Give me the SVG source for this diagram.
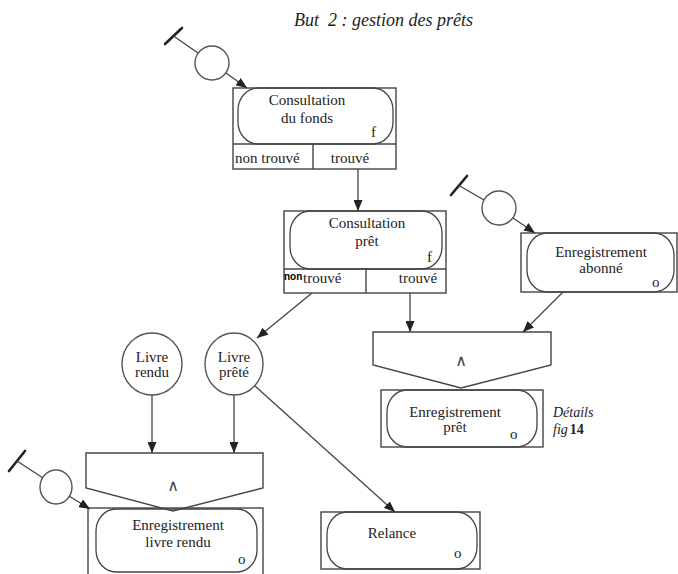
<svg xmlns="http://www.w3.org/2000/svg" width="678" height="574" viewBox="0 0 678 574">
<defs>
<marker id="ah" markerUnits="userSpaceOnUse" markerWidth="11" markerHeight="9" refX="11" refY="4.5" orient="auto">
<path d="M0,0 L11,4.5 L0,9 z" fill="#222"/>
</marker>
<style>
.box{fill:none;stroke:#444;stroke-width:1.4}
.rr{fill:none;stroke:#444;stroke-width:1.3}
.c{fill:#fff;stroke:#555;stroke-width:1.4}
.bar{stroke:#222;stroke-width:2.6;stroke-linecap:round}
.ln{fill:none;stroke:#444;stroke-width:1.3}
.arr{fill:none;stroke:#444;stroke-width:1.3;marker-end:url(#ah)}
.t{font-family:"Liberation Serif","Times New Roman",serif;font-size:15px;fill:#222}
.m{text-anchor:middle}
.it{font-style:italic}
.and{font-family:"DejaVu Sans",sans-serif;font-size:16px;fill:#444;text-anchor:middle}
.sync{fill:#fff;stroke:#444;stroke-width:1.4}
</style>
</defs>
<rect width="678" height="574" fill="#fff"/>

<g id="title">
<text class="t it" x="294" y="26" style="font-size:18px;white-space:pre" xml:space="preserve">But  2 : gestion des prêts</text>
</g>

<g id="start1">
<line class="bar" x1="165" y1="44" x2="182" y2="28"/>
<line class="ln" x1="173.5" y1="36" x2="198" y2="53"/>
<circle class="c" cx="212" cy="63" r="17"/>
</g>

<g id="n-consultation-fonds">
<rect class="box" x="233" y="88" width="163" height="81"/>
<line class="box" x1="233" y1="144" x2="396" y2="144"/>
<line class="box" x1="313" y1="144" x2="313" y2="169"/>
<rect class="rr" x="238" y="88" width="155" height="56" rx="20" ry="22"/>
<text class="t m" x="307" y="105">Consultation</text>
<text class="t m" x="307" y="123">du fonds</text>
<text class="t" x="371" y="137">f</text>
<text class="t" x="235" y="163">non trouvé</text>
<text class="t m" x="350" y="163">trouvé</text>
</g>

<g id="n-consultation-pret">
<rect class="box" x="284" y="211" width="162" height="82"/>
<line class="box" x1="284" y1="269" x2="446" y2="269"/>
<line class="box" x1="366" y1="269" x2="366" y2="293"/>
<rect class="rr" x="290" y="211" width="152" height="58" rx="20" ry="22"/>
<text class="t m" x="367" y="228">Consultation</text>
<text class="t m" x="367" y="246">prêt</text>
<text class="t" x="427" y="262">f</text>
<text x="284" y="280" style="font-family:'Liberation Sans',Arial,sans-serif;font-size:10px;font-weight:bold;fill:#000">non</text>
<text class="t" x="303" y="283">trouvé</text>
<text class="t m" x="418" y="283">trouvé</text>
</g>

<g id="start2">
<line class="bar" x1="451" y1="195" x2="467" y2="176"/>
<line class="ln" x1="459" y1="185.5" x2="484" y2="200"/>
<circle class="c" cx="499" cy="208" r="17"/>
</g>

<g id="n-enregistrement-abonne">
<rect class="box" x="521" y="233" width="156" height="59"/>
<rect class="rr" x="527" y="233" width="147" height="59" rx="20" ry="22"/>
<text class="t m" x="601" y="257">Enregistrement</text>
<text class="t m" x="601" y="273">abonné</text>
<text class="t" x="652" y="287">o</text>
</g>

<g id="sync1">
<polygon class="sync" points="373,332 551,332 551,365 461,388 373,365"/>
<text class="and" x="461" y="366">∧</text>
</g>

<g id="n-enregistrement-pret">
<rect class="box" x="381" y="390" width="162" height="57"/>
<rect class="rr" x="387" y="390" width="150" height="57" rx="20" ry="22"/>
<text class="t m" x="455" y="417">Enregistrement</text>
<text class="t m" x="455" y="432">prêt</text>
<text class="t" x="510" y="439">o</text>
</g>

<g id="details">
<text class="t it" x="553" y="417" style="font-size:14px">Détails</text>
<text class="t" x="553" y="434" style="font-size:14px"><tspan font-style="italic">fig</tspan><tspan font-weight="bold" dx="2">14</tspan></text>
</g>

<g id="livre-rendu">
<ellipse class="c" cx="152" cy="364" rx="30" ry="31"/>
<text class="t m" x="152" y="362">Livre</text>
<text class="t m" x="152" y="377">rendu</text>
</g>

<g id="livre-prete">
<ellipse class="c" cx="234" cy="364" rx="29" ry="31"/>
<text class="t m" x="234" y="362">Livre</text>
<text class="t m" x="234" y="377">prêté</text>
</g>

<g id="sync2">
<polygon class="sync" points="86,453 263,453 263,488 173,511 86,488"/>
<text class="and" x="173" y="491">∧</text>
</g>

<g id="start3">
<line class="bar" x1="9" y1="471" x2="25" y2="451"/>
<line class="ln" x1="17" y1="461" x2="43" y2="478"/>
<ellipse class="c" cx="56" cy="487" rx="16" ry="17"/>
</g>

<g id="n-enregistrement-livre-rendu">
<rect class="box" x="88" y="508" width="175" height="70"/>
<rect class="rr" x="96" y="509" width="161" height="63" rx="20" ry="22"/>
<text class="t m" x="178" y="530">Enregistrement</text>
<text class="t m" x="178" y="547">livre rendu</text>
<text class="t" x="238" y="564">o</text>
</g>

<g id="n-relance">
<rect class="box" x="321" y="512" width="159" height="57"/>
<rect class="rr" x="327" y="512" width="150" height="57" rx="20" ry="22"/>
<text class="t m" x="392" y="538">Relance</text>
<text class="t" x="454" y="558">o</text>
</g>

<g id="connectors">
<line class="arr" x1="226" y1="73" x2="247" y2="88"/>
<line class="arr" x1="358" y1="169" x2="358" y2="211"/>
<line class="arr" x1="513" y1="218" x2="535" y2="233"/>
<line class="arr" x1="312" y1="293" x2="257" y2="338"/>
<line class="arr" x1="410" y1="293" x2="410" y2="332"/>
<line class="arr" x1="563" y1="292" x2="523" y2="332"/>
<line class="arr" x1="152" y1="395" x2="152" y2="453"/>
<line class="arr" x1="234" y1="395" x2="234" y2="453"/>
<line class="arr" x1="69" y1="496" x2="90" y2="509"/>
<line class="arr" x1="255" y1="386" x2="395" y2="512"/>
</g>
</svg>
